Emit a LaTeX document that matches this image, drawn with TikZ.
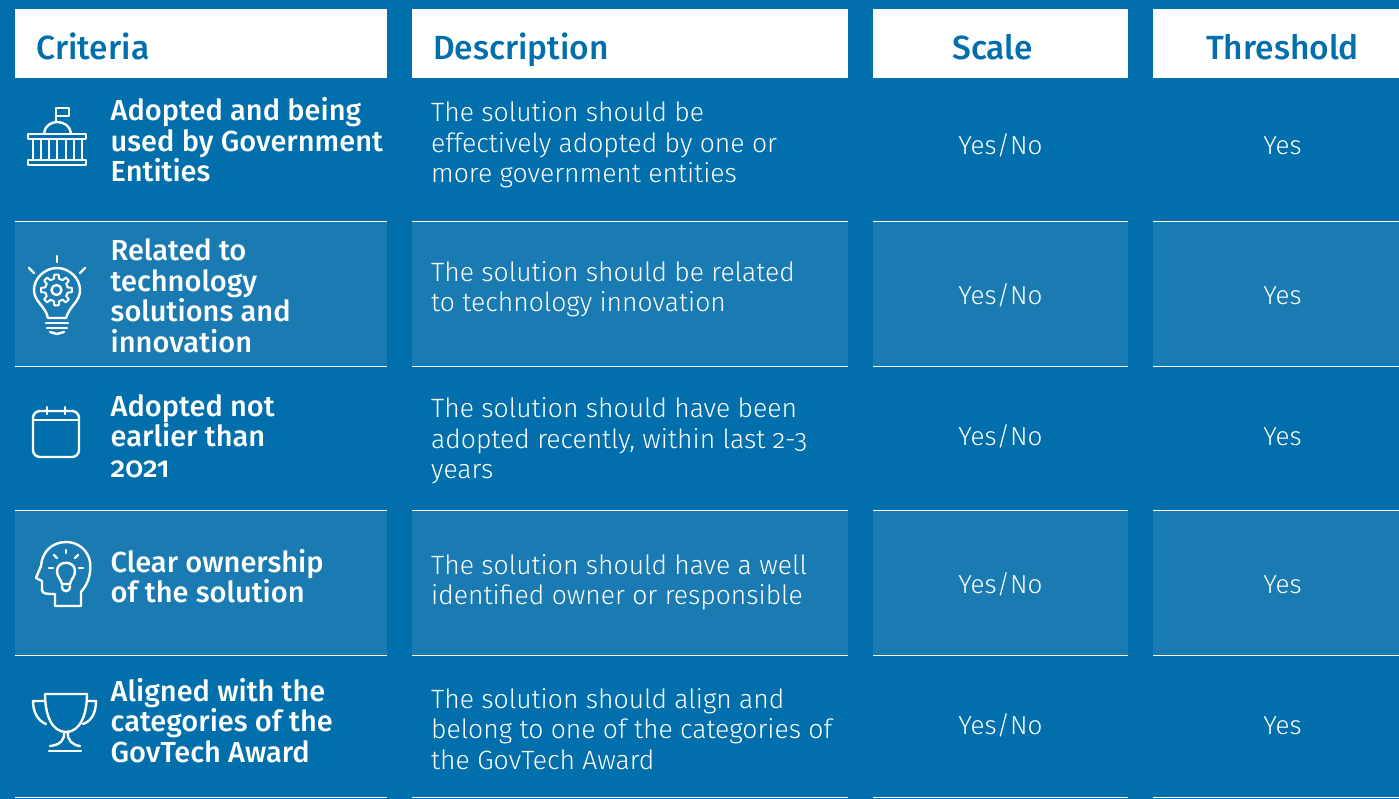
\documentclass[tikz,border=0pt]{standalone}
\usepackage{fontspec}
\setmainfont{Fira Sans Light}[BoldFont={Fira Sans Medium},Numbers=OldStyle]
\definecolor{bgblue}{HTML}{006FAC}
\definecolor{band}{HTML}{1A7BB2}
\tikzset{x=1pt,y=-1pt,
 head/.style={fill=white,draw=none},
 headtext/.style={text=bgblue,font=\fontsize{33.5}{36}\selectfont\bfseries,anchor=base,inner sep=0pt},
 crittext/.style={text=white,anchor=west,align=left,inner sep=0pt,font=\fontsize{29}{30.5}\selectfont\bfseries},
 desctext/.style={text=white,anchor=west,align=left,inner sep=0pt,font=\fontsize{26.5}{30.5}\selectfont},
 val/.style={text=white,font=\fontsize{26}{30}\selectfont,inner sep=0pt,anchor=base},
 rule/.style={draw=white,line width=1pt},
 icon/.style={draw=white,line width=2.4pt,line cap=round,line join=round,fill=none}}
\begin{document}
\begin{tikzpicture}
\fill[bgblue] (0,0) rectangle (1399,799);
\useasboundingbox (0,0) rectangle (1399,799);
\foreach \xa/\xb in {15/387,412/848,873/1128,1153/1399}{
 \fill[head] (\xa,9) rectangle (\xb,78);
 \fill[band] (\xa,222) rectangle (\xb,367);
 \fill[band] (\xa,511) rectangle (\xb,656);
 \foreach \yy in {221.8,366.8,510.8,655.8,797.8}{\draw[rule] (\xa,\yy) -- (\xb,\yy);}
}
\node[headtext] (h1) at (93,60) {Criteria};
\node[headtext] (h2) at (521,60) {Description};
\node[headtext] (h3) at (992.5,60) {Scale};
\node[headtext] (h4) at (1282.5,60) {Threshold};
\node[crittext] (c1) at (110.5,140) {Adopted and being\\used by Government\\Entities};
\node[crittext] (c2) at (110.5,296) {Related to\\technology\\solutions and\\innovation};
\node[crittext] (c3) at (110.5,436) {Adopted not\\earlier than\\2021};
\node[crittext] (c4) at (110.5,576) {Clear ownership\\of the solution};
\node[crittext] (c5) at (110.5,720.5) {Aligned with the\\categories of the\\GovTech Award};
\node[desctext] (d1) at (431,145) {The solution should be\\effectively adopted by one or\\more government entities};
\node[desctext] (d2) at (431,289) {The solution should be related\\to technology innovation};
\node[desctext] (d3) at (431,441) {The solution should have been\\adopted recently, within last 2-3\\years};
\node[desctext] (d4) at (431,582) {The solution should have a well\\identified owner or responsible};
\node[desctext] (d5) at (431,729) {The solution should align and\\belong to one of the categories of\\the GovTech Award};
\foreach \n/\yy in {1/155,2/305,3/445,4/593,5/734}{
 \node[val] (s\n) at (1000.5,\yy) {Yes/No};
 \node[val] (t\n) at (1282.5,\yy) {Yes};
}
% capitol
\begin{scope}[icon]
\draw (56,122) -- (56,108) -- (69,108) -- (69,116) -- (56,116);
\draw (44,133) .. controls (45,126) and (51,122) .. (57,122) .. controls (64,122) and (70,126) .. (71,133);
\draw (28,134) rectangle (86,139);
\draw (28,160) rectangle (86,165);
\foreach \xx in {33,41,49,57,66,74,82}{\draw (\xx,139) -- (\xx,160);}
\end{scope}
% bulb with gear
\begin{scope}[icon]
\draw (57,256) -- (57,262);
\draw (29,268) -- (34,273);
\draw (85,268) -- (80,273);
\draw (48,318) .. controls (45,305) and (34,302) .. (34,290) .. controls (34,278) and (45,268) .. (57,268) .. controls (69,268) and (80,278) .. (80,290) .. controls (80,302) and (70,305) .. (66,318) -- cycle;
\draw (46,323) -- (68,323);
\draw (47,328) -- (67,328);
\draw (50,332) .. controls (53,332) and (54,334) .. (57,334) .. controls (60,334) and (61,332) .. (64,332);
\draw (56.5,290) circle (5);
\foreach \a in {0,45,...,315}{
 \draw[line width=2pt] (56.5,290)+(\a-13:11.5) -- +(\a-8:15.5) -- +(\a+8:15.5) -- +(\a+13:11.5) -- +(\a+32:11.5);
}
\end{scope}
% calendar
\begin{scope}[icon]
\draw[rounded corners=7pt] (33,411) rectangle (79,457);
\draw (33,420) -- (79,420);
\draw (47,407) -- (47,414);
\draw (65,407) -- (65,414);
\end{scope}
% head with bulb
\begin{scope}[icon]
\draw (81,606) -- (81,592) .. controls (90,582) and (91,570) .. (90,562) .. controls (88,550) and (78,542) .. (66,542) .. controls (52,542) and (42,552) .. (41,566) -- (36,578) -- (42,581) -- (42,590) .. controls (42,594) and (48,594) .. (55,594) -- (55,606) -- cycle;
\draw (62,584) .. controls (61,579) and (57,577) .. (57,571) .. controls (57,560) and (75,560) .. (75,571) .. controls (75,577) and (71,579) .. (70,584) -- cycle;
\draw (62,586) .. controls (62,593) and (70,593) .. (70,586);
\draw (49,568) -- (53,568);
\draw (79,568) -- (83,568);
\draw (66,550) -- (66,553);
\draw (54,555) -- (57,558);
\draw (78,555) -- (75,558);
\end{scope}
% trophy
\begin{scope}[icon]
\draw (45,694) -- (87,694) .. controls (87,715) and (80,732) .. (66,732) .. controls (52,732) and (45,715) .. (45,694);
\draw (45,701) -- (33,701) .. controls (33,712) and (38,721) .. (46,724);
\draw (87,701) -- (96,701) .. controls (96,712) and (92,721) .. (83,724);
\draw (64,732) .. controls (65,740) and (60,745) .. (50,746);
\draw (68,732) .. controls (67,740) and (72,745) .. (80,746);
\draw (49,751) -- (81,751);
\end{scope}
\end{tikzpicture}
\end{document}
